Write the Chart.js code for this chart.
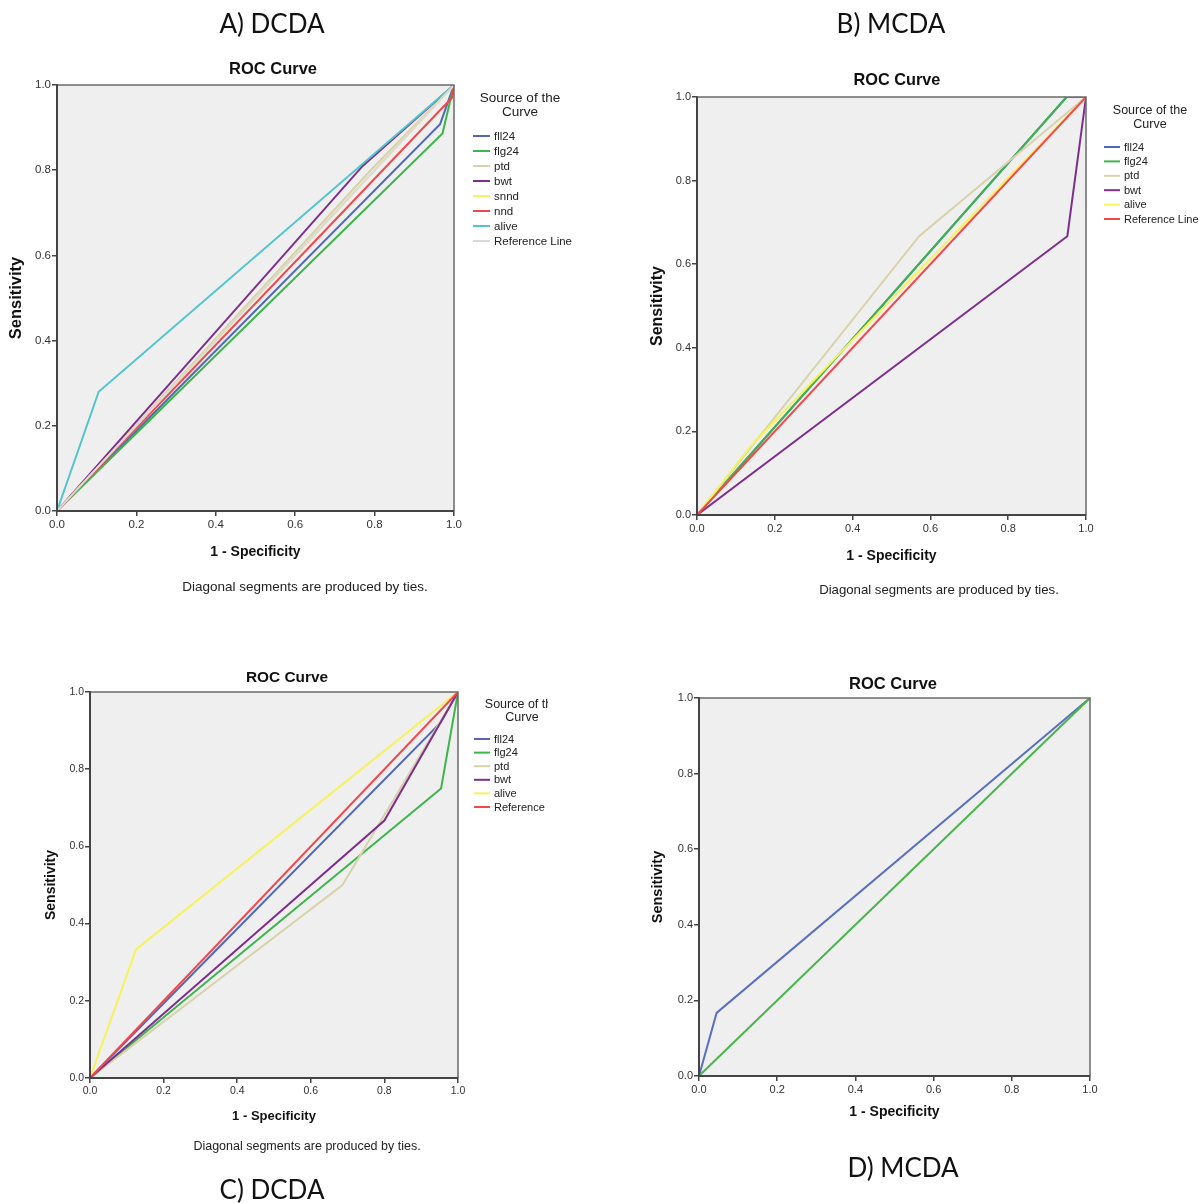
<!DOCTYPE html>
<html>
<head>
<meta charset="utf-8">
<script src="https://cdn.jsdelivr.net/npm/chart.js@4/dist/chart.umd.min.js"></script>
<style>
  html, body { margin: 0; padding: 0; background: #ffffff; }
  #wrap { position: relative; width: 1200px; height: 1203px; overflow: hidden; background: #fff; }
  canvas { position: absolute; }
</style>
</head>
<body>
<div id="wrap">
  <canvas id="cA" width="600" height="620" style="left:0px;top:0px;width:600px;height:620px;"></canvas>
  <canvas id="cB" width="600" height="620" style="left:600px;top:0px;width:600px;height:620px;"></canvas>
  <canvas id="cC" width="548" height="583" style="left:0px;top:620px;width:548px;height:583px;"></canvas>
  <canvas id="cD" width="600" height="583" style="left:600px;top:620px;width:600px;height:583px;"></canvas>
</div>
<script>
// ---------------- DATA ----------------
const tickValues = [0, 0.2, 0.4, 0.6, 0.8, 1.0];
const chartTitle = 'ROC Curve';
const xAxisTitle = '1 - Specificity';
const yAxisTitle = 'Sensitivity';
const footnoteText = 'Diagonal segments are produced by ties.';
const legendTitle = ['Source of the', 'Curve'];
const panelHeaders = ['A) DCDA', 'B) MCDA', 'C) DCDA', 'D) MCDA'];

// Panel A (DCDA) — [1 - specificity, sensitivity]
const namesA = ['fll24', 'flg24', 'ptd', 'bwt', 'snnd', 'nnd', 'alive', 'Reference Line'];
const a_fll24 = [[0, 0], [0.965, 0.908], [1, 1]];
const a_flg24 = [[0, 0], [0.971, 0.886], [1, 1]];
const a_ptd   = [[0, 0], [0.79, 0.8], [1, 1]];
const a_bwt   = [[0, 0], [0.77, 0.81], [1, 1]];
const a_snnd  = [[0, 0], [1, 1]];
const a_nnd   = [[0, 0], [0.995, 0.97], [1, 1]];
const a_alive = [[0, 0], [0.105, 0.28], [1, 1]];
const a_ref   = [[0, 0], [1, 1]];

// Panel B (MCDA)
const namesB = ['fll24', 'flg24', 'ptd', 'bwt', 'alive', 'Reference Line'];
const b_fll24 = [[0, 0], [0.95, 1], [1, 1]];
const b_flg24 = [[0, 0], [0.95, 1], [1, 1]];
const b_ptd   = [[0, 0], [0.571, 0.667], [1, 1]];
const b_bwt   = [[0, 0], [0.952, 0.667], [1, 1]];
const b_alive = [[0, 0], [0.14, 0.167], [1, 1]];
const b_ref   = [[0, 0], [1, 1]];

// Panel C (DCDA)
const namesC = ['fll24', 'flg24', 'ptd', 'bwt', 'alive', 'Reference Line'];
const c_fll24 = [[0, 0], [0.952, 0.92], [1, 1]];
const c_flg24 = [[0, 0], [0.954, 0.75], [1, 1]];
const c_ptd   = [[0, 0], [0.686, 0.5], [1, 1]];
const c_bwt   = [[0, 0], [0.8, 0.667], [1, 1]];
const c_alive = [[0, 0], [0.125, 0.333], [1, 1]];
const c_ref   = [[0, 0], [1, 1]];

// Panel D (MCDA)
const namesD = ['fll24', 'flg24'];
const d_fll24 = [[0, 0], [0.045, 0.167], [1, 1]];
const d_flg24 = [[0, 0], [1, 1]];

// ---------------- STYLES ----------------
const SANS = "'Liberation Sans', Arial, sans-serif";
const HEAD = "Lato, 'Open Sans', sans-serif";
const BLUE = '#5068b8', GREEN = '#3db54b', TAN = '#d8d2ab', PURPLE = '#7e2f8e',
      YELLOW = '#f6f25c', RED = '#f2484b', CYAN = '#52c5cd', GREY = '#d9d9d9';

const colorsA = [BLUE, GREEN, TAN, PURPLE, YELLOW, RED, CYAN, GREY];
const colorsB = [BLUE, GREEN, TAN, PURPLE, YELLOW, RED];
const colorsC = [BLUE, GREEN, TAN, PURPLE, YELLOW, RED];
const colorsD = ['#5a70be', '#4db54f'];

function makeDatasets(names, series, colors) {
  const n = series.length;
  return series.map((pts, i) => ({
    label: names[i],
    data: pts.map(p => ({ x: p[0], y: p[1] })),
    borderColor: colors[i],
    backgroundColor: colors[i],
    borderWidth: 2,
    pointRadius: 0,
    pointHoverRadius: 0,
    fill: false,
    tension: 0,
    order: n - i
  }));
}

const framePlugin = {
  id: 'spssFrame',
  beforeDraw(chart) {
    const { ctx, chartArea: { left, top, right, bottom } } = chart;
    ctx.save();
    ctx.fillStyle = '#efefef';
    ctx.fillRect(left, top, right - left, bottom - top);
    ctx.restore();
  },
  afterDatasetsDraw(chart) {
    const { ctx, chartArea: { left, top, right, bottom } } = chart;
    ctx.save();
    ctx.strokeStyle = '#6a6a6a';
    ctx.lineWidth = 1.5;
    ctx.beginPath();
    ctx.moveTo(left, top); ctx.lineTo(right, top); ctx.lineTo(right, bottom);
    ctx.stroke();
    ctx.strokeStyle = '#444';
    ctx.lineWidth = 2;
    ctx.beginPath();
    ctx.moveTo(left, top); ctx.lineTo(left, bottom); ctx.lineTo(right, bottom);
    ctx.stroke();
    ctx.restore();
  }
};

function textPlugin(cfg) {
  return {
    id: 'spssText',
    afterDraw(chart) {
      const ctx = chart.ctx;
      ctx.save();
      cfg.texts.forEach(t => {
        ctx.font = t.font;
        ctx.fillStyle = t.color || '#111';
        ctx.textAlign = 'center';
        ctx.textBaseline = t.baseline || 'middle';
        ctx.fillText(t.text, t.x, t.y);
      });
      if (cfg.legend) {
        const L = cfg.legend;
        ctx.font = L.titleFont;
        ctx.fillStyle = '#222';
        ctx.textAlign = 'center';
        ctx.textBaseline = 'middle';
        legendTitle.forEach((s, i) => ctx.fillText(s, L.titleX, L.titleY[i]));
        ctx.font = L.itemFont;
        ctx.textAlign = 'left';
        chart.data.datasets.forEach((ds, i) => {
          const y = L.y0 + i * L.dy;
          ctx.strokeStyle = ds.borderColor;
          ctx.lineWidth = 2;
          ctx.beginPath();
          ctx.moveTo(L.x0, y); ctx.lineTo(L.x1, y);
          ctx.stroke();
          ctx.fillStyle = '#222';
          ctx.fillText(ds.label, L.textX, y + 0.5);
        });
      }
      ctx.restore();
    }
  };
}

function makeScales(p) {
  const common = () => ({
    type: 'linear', min: 0, max: 1,
    afterBuildTicks: s => { s.ticks = tickValues.map(v => ({ value: v })); },
    ticks: { callback: v => Number(v).toFixed(1), font: { family: SANS, size: p.tickSize }, color: '#333', autoSkip: false, maxRotation: 0 },
    grid: { drawOnChartArea: false, drawTicks: true, tickLength: 5, color: '#444', lineWidth: 1.5 },
    border: { display: true, color: '#444', width: 2 }
  });
  const x = common();
  x.position = 'bottom';
  x.ticks.padding = 2;
  x.afterFit = s => { s.height = p.xH; };
  x.title = { display: true, text: xAxisTitle, color: '#111', font: { family: SANS, size: p.xTitleSize, weight: 'bold' }, padding: { top: 0, bottom: 0 } };
  const y = common();
  y.position = 'left';
  y.ticks.padding = 1;
  y.afterFit = s => { s.width = p.yW; };
  y.title = { display: true, text: yAxisTitle, color: '#111', font: { family: SANS, size: p.yTitleSize, weight: 'bold' }, padding: { top: p.yTitlePad, bottom: 0 } };
  return { x, y };
}

function makeChart(id, names, series, colors, p, textCfg) {
  return new Chart(document.getElementById(id), {
    type: 'line',
    data: { datasets: makeDatasets(names, series, colors) },
    options: {
      responsive: false,
      animation: false,
      parsing: true,
      layout: { padding: p.pad },
      scales: makeScales(p),
      plugins: { legend: { display: false }, title: { display: false }, tooltip: { enabled: false } }
    },
    plugins: [framePlugin, textPlugin(textCfg)]
  });
}

// Panel A
makeChart('cA', namesA,
  [a_fll24, a_flg24, a_ptd, a_bwt, a_snnd, a_nnd, a_alive, a_ref], colorsA,
  { pad: { left: 0, right: 146, top: 85, bottom: 59 }, yW: 57, xH: 50, tickSize: 11.5, xTitleSize: 14, yTitleSize: 16.5, yTitlePad: 7 },
  { texts: [
      { text: panelHeaders[0], x: 272, y: 33, font: '26px ' + HEAD, baseline: 'alphabetic', color: '#111' },
      { text: chartTitle, x: 273, y: 69, font: 'bold 16.5px ' + SANS },
      { text: footnoteText, x: 305, y: 587, font: '13.5px ' + SANS, color: '#222' }
    ],
    legend: { titleX: 520, titleY: [98, 112], titleFont: '13.5px ' + SANS, itemFont: '11.5px ' + SANS,
              y0: 136, dy: 15, x0: 473, x1: 490, textX: 494 } });

// Panel B
makeChart('cB', namesB,
  [b_fll24, b_flg24, b_ptd, b_bwt, b_alive, b_ref], colorsB,
  { pad: { left: 40, right: 114, top: 97, bottom: 55 }, yW: 57, xH: 50, tickSize: 11, xTitleSize: 14, yTitleSize: 16, yTitlePad: 8 },
  { texts: [
      { text: panelHeaders[1], x: 291, y: 33, font: '26px ' + HEAD, baseline: 'alphabetic', color: '#111' },
      { text: chartTitle, x: 297, y: 81, font: 'bold 16.3px ' + SANS },
      { text: footnoteText, x: 339, y: 590, font: '13.2px ' + SANS, color: '#222' }
    ],
    legend: { titleX: 550, titleY: [111, 125], titleFont: '12.5px ' + SANS, itemFont: '11px ' + SANS,
              y0: 147, dy: 14.4, x0: 504, x1: 520, textX: 524 } });

// Panel C
makeChart('cC', namesC,
  [c_fll24, c_flg24, c_ptd, c_bwt, c_alive, c_ref], colorsC,
  { pad: { left: 35, right: 90, top: 72, bottom: 79 }, yW: 55, xH: 46, tickSize: 10.5, xTitleSize: 13, yTitleSize: 14, yTitlePad: 8 },
  { texts: [
      { text: panelHeaders[2], x: 272, y: 579, font: '26px ' + HEAD, baseline: 'alphabetic', color: '#111' },
      { text: chartTitle, x: 287, y: 58, font: 'bold 15.4px ' + SANS },
      { text: footnoteText, x: 307, y: 527, font: '12.5px ' + SANS, color: '#222' }
    ],
    legend: { titleX: 522, titleY: [85, 98], titleFont: '12.5px ' + SANS, itemFont: '11px ' + SANS,
              y0: 119, dy: 13.6, x0: 474, x1: 490, textX: 494 } });

// Panel D
makeChart('cD', namesD,
  [d_fll24, d_flg24], colorsD,
  { pad: { left: 41, right: 110, top: 78, bottom: 82 }, yW: 58, xH: 45, tickSize: 11, xTitleSize: 14, yTitleSize: 14.5, yTitlePad: 8 },
  { texts: [
      { text: panelHeaders[3], x: 303, y: 557, font: '26px ' + HEAD, baseline: 'alphabetic', color: '#111' },
      { text: chartTitle, x: 293, y: 64, font: 'bold 16.5px ' + SANS }
    ],
    legend: null });
</script>
</body>
</html>
